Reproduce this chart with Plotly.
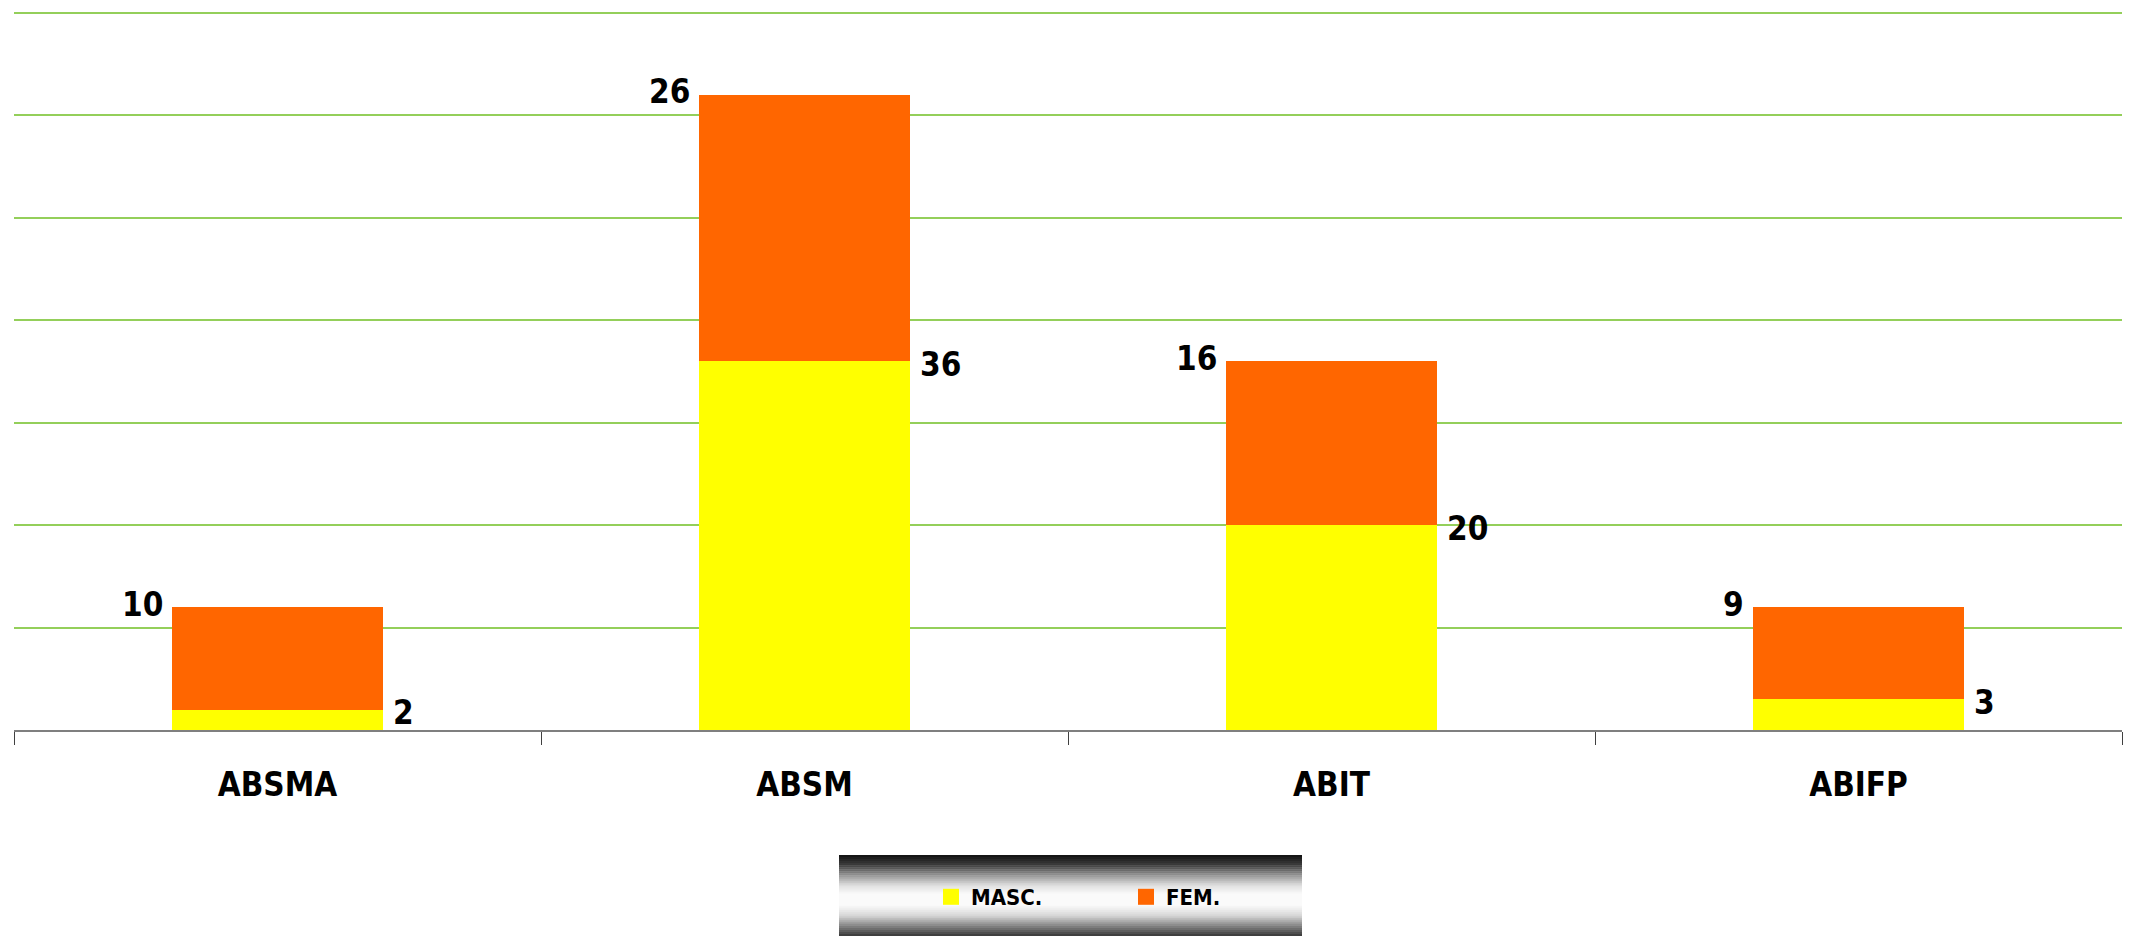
import plotly.graph_objects as go

categories = ["ABSMA", "ABSM", "ABIT", "ABIFP"]
masc = [2, 36, 20, 3]
fem = [10, 26, 16, 9]
series_names = ["MASC.", "FEM."]

# the page body has an 8px margin, so the figure sits at (8, 8) on screen
OFF = 8
W, H = 2136 - OFF, 936 - OFF
# target plot area in screen pixels
SX0, SX1, SY0, SY1 = 14, 2122, 11, 730
ML, MR = SX0 - OFF, W - (SX1 - OFF)
MT, MB = SY0 - OFF, H - (SY1 - OFF)
PW, PH = W - ML - MR, H - MT - MB

FONT = "DejaVu Sans Condensed, DejaVu Sans, sans-serif"
YELLOW = "#FFFF00"
ORANGE = "#FF6600"
GRID = "#94CF5A"
colors = [YELLOW, ORANGE]


def sx(px):
    return (px - SX0) / PW


def sy(py):
    return (SY1 - py) / PH


def f(size):
    return dict(family=FONT, size=size, color="black", weight="bold")


fig = go.Figure()
fig.add_trace(go.Bar(x=categories, y=masc, name=series_names[0], showlegend=False,
                     marker=dict(color=YELLOW, line=dict(width=0))))
fig.add_trace(go.Bar(x=categories, y=fem, name=series_names[1], showlegend=False,
                     marker=dict(color=ORANGE, line=dict(width=0))))
# legend entries with larger square swatches
for name, col in zip(series_names, colors):
    fig.add_trace(go.Scatter(x=[None], y=[None], mode="markers", name=name,
                             marker=dict(symbol="square", size=16, color=col),
                             hoverinfo="skip"))

annotations = []
for i, (m, fv) in enumerate(zip(masc, fem)):
    annotations.append(dict(x=i - 0.2, y=m + fv, xref="x", yref="y", text=str(fv),
                            showarrow=False, xanchor="right", yanchor="middle",
                            xshift=-7, yshift=3, font=f(33)))
    annotations.append(dict(x=i + 0.2, y=m, xref="x", yref="y", text=str(m),
                            showarrow=False, xanchor="left", yanchor="middle",
                            xshift=8, yshift=-3, font=f(33)))

# gradient legend background (strips)
box_x0, box_x1, box_y0, box_y1 = 839, 1302, 855, 936
n = 40
stops = [(0.0, 17), (0.12, 60), (0.25, 150), (0.38, 225), (0.48, 250),
         (0.62, 250), (0.75, 215), (0.88, 130), (1.0, 55)]


def gray_at(t):
    for (t0, g0), (t1, g1) in zip(stops[:-1], stops[1:]):
        if t0 <= t <= t1:
            return g0 + (g1 - g0) * (t - t0) / (t1 - t0)
    return stops[-1][1]


shapes = []
for k in range(n):
    t = (k + 0.5) / n
    g = int(round(gray_at(t)))
    y0 = box_y0 + (box_y1 - box_y0) * k / n
    y1 = box_y0 + (box_y1 - box_y0) * (k + 1) / n + 0.6
    shapes.append(dict(type="rect", xref="paper", yref="paper",
                       x0=sx(box_x0), x1=sx(box_x1), y0=sy(y0), y1=sy(y1),
                       fillcolor=f"rgb({g},{g},{g})", line=dict(width=0),
                       layer="below"))

fig.update_layout(
    width=W, height=H,
    barmode="stack", bargap=0.6,
    paper_bgcolor="white", plot_bgcolor="white",
    margin=dict(l=ML, r=MR, t=MT, b=MB, autoexpand=False),
    font=dict(family=FONT, color="black"),
    showlegend=True,
    legend=dict(orientation="h", x=sx(931), y=sy(897),
                xanchor="left", yanchor="middle",
                bgcolor="rgba(0,0,0,0)", borderwidth=0,
                entrywidth=150, entrywidthmode="pixels",
                font=f(22), traceorder="normal", itemsizing="trace"),
    xaxis=dict(showline=True, linecolor="#7F7F7F", linewidth=2,
               ticks="outside", tickson="boundaries", ticklen=13, tickwidth=1,
               tickcolor="#404040", showgrid=False,
               tickfont=f(33), ticklabelstandoff=24),
    yaxis=dict(range=[0, 70.2], tickvals=[10, 20, 30, 40, 50, 60, 70],
               showgrid=True, gridcolor=GRID, gridwidth=1.5,
               showticklabels=False, zeroline=False, showline=False, ticks=""),
    annotations=annotations,
    shapes=shapes,
)

fig.write_html("out.html")
